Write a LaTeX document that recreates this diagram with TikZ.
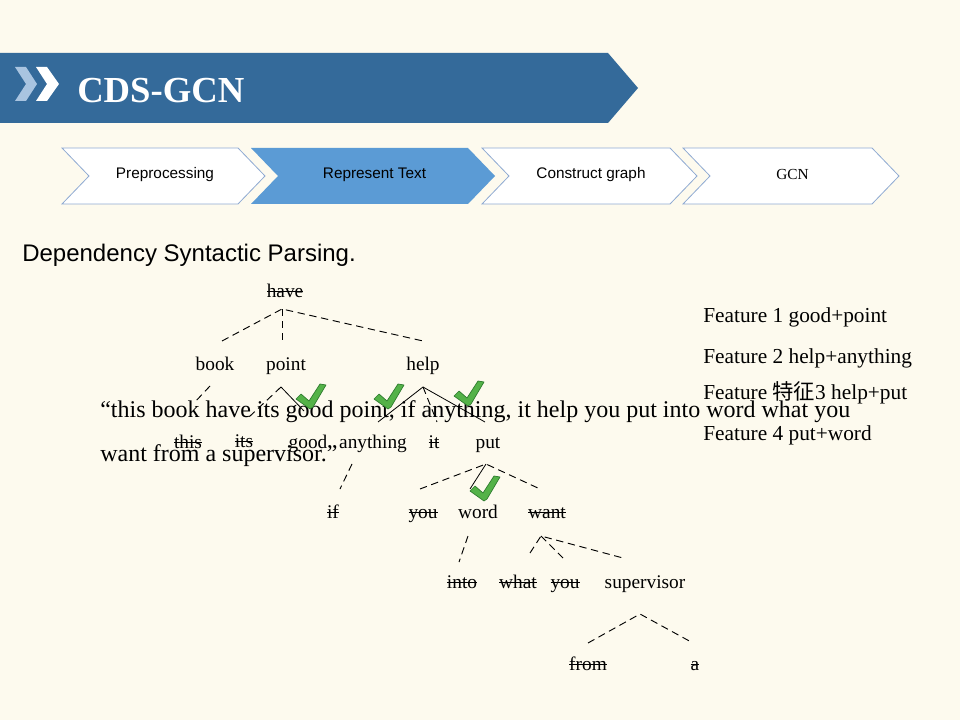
\documentclass[tikz,border=0pt]{standalone}
\usepackage{fontspec}
\setmainfont{Liberation Serif}
\newfontfamily\arialf{Liberation Sans}
\newfontfamily\cjkf{Noto Sans CJK SC}
\newcommand\mystrike[1]{\setbox0\hbox{#1}\rlap{\rule[0.25em]{\wd0}{0.05em}}\box0}
\definecolor{bgc}{RGB}{253,250,238}
\definecolor{barc}{RGB}{52,106,154}
\definecolor{chevedge}{RGB}{143,170,210}
\definecolor{chevblue}{RGB}{91,155,213}
\definecolor{iconlight}{RGB}{169,196,224}
\definecolor{ckfill}{RGB}{84,178,72}
\definecolor{ckedge}{RGB}{44,122,44}
\tikzset{
  wd/.style={font=\fontsize{14.5}{16}\selectfont, anchor=base, inner sep=0pt},
  dep/.style={line width=0.7pt, dash pattern=on 5.5pt off 3.5pt},
  sol/.style={line width=0.6pt},
  chev/.style={fill=white, draw=chevedge, line width=0.6pt},
  chevlab/.style={font=\arialf\fontsize{11.5}{13}\selectfont, inner sep=0pt},
  feat/.style={font=\fontsize{16}{18}\selectfont, anchor=base west, inner sep=0pt},
  sent/.style={font=\fontsize{18}{20}\selectfont, anchor=base west, inner sep=0pt},
  checkmk/.pic={
    \filldraw[fill=ckfill, draw=ckedge, line width=0.5pt, line join=round]
      (0,0) -- (-14,-10) -- (-9,-15) -- (-1,-8) -- (10,-25) -- (16,-24) -- (3,-2) -- cycle;
  }
}
\begin{document}
\begin{tikzpicture}[x=0.75pt,y=-0.75pt]
\fill[bgc] (0,0) rectangle (960,720);
\useasboundingbox (0,0) rectangle (960,720);
% header bar
\fill[barc] (0,53) -- (608,53) -- (638,88) -- (608,123) -- (0,123) -- cycle;
\fill[iconlight] (15,67) -- (26,67) -- (37,84) -- (26,101) -- (15,101) -- (26,84) -- cycle;
\fill[white] (36,67) -- (47,67) -- (59,84) -- (47,101) -- (36,101) -- (47,84) -- cycle;
\node[anchor=base west, inner sep=0pt, text=white, font=\bfseries\fontsize{27.5}{30}\selectfont] (title) at (77,103) {CDS-GCN};
% process chevrons
\path[chev] (62,148) -- (238,148) -- (265,176) -- (238,204) -- (62,204) -- (89,176) -- cycle;
\fill[chevblue] (251,148) -- (468,148) -- (495,176) -- (468,204) -- (251,204) -- (278,176) -- cycle;
\path[chev] (482,148) -- (670,148) -- (697,176) -- (670,204) -- (482,204) -- (509,176) -- cycle;
\path[chev] (683,148) -- (872,148) -- (899,176) -- (872,204) -- (683,204) -- (710,176) -- cycle;
\node[chevlab] (c1) at (165,175) {Preprocessing};
\node[chevlab] (c2) at (374.5,175) {Represent Text};
\node[chevlab] (c3) at (591,175) {Construct graph};
\node[inner sep=0pt, font=\fontsize{11.5}{13}\selectfont] (c4) at (792.5,175) {GCN};
\node[anchor=base west, inner sep=0pt, font=\arialf\fontsize{18}{20}\selectfont] (dsp) at (22,262) {Dependency Syntactic Parsing.};
% sentence
\node[sent] (s1) at (100,417) {“this book have its good point, if anything, it help you put into word what you};
\node[sent] (s2) at (100,461) {want from a supervisor.”};
% features
\node[feat] (f1) at (703,322) {Feature 1 good+point};
\node[feat] (f2) at (703,363) {Feature 2 help+anything};
\node[feat] (f3) at (703,399) {Feature {\cjkf 特征}3 help+put};
\node[feat] (f4) at (703,440) {Feature 4 put+word};
% tree words
\node[wd] (have) at (285,297) {\mystrike{have}};
\node[wd] (book) at (215,370) {book};
\node[wd] (point) at (286,370) {point};
\node[wd] (help) at (423,370) {help};
\node[wd] (this) at (188,448) {\mystrike{this}};
\node[wd] (its) at (244,447) {\mystrike{its}};
\node[wd] (good) at (308,448) {good};
\node[wd] (anything) at (373,448) {anything};
\node[wd] (it) at (434,448) {\mystrike{it}};
\node[wd] (put) at (488,448) {put};
\node[wd] (if) at (333,518) {\mystrike{if}};
\node[wd] (you) at (423,518) {\mystrike{you}};
\node[wd] (word) at (478,518) {word};
\node[wd] (want) at (547,518) {\mystrike{want}};
\node[wd] (into) at (462,588) {\mystrike{into}};
\node[wd] (what) at (518,588) {\mystrike{what}};
\node[wd] (youb) at (565,588) {\mystrike{you}};
\node[wd] (supervisor) at (645,588) {supervisor};
\node[wd] (from) at (588,670) {\mystrike{from}};
\node[wd] (a) at (695,670) {\mystrike{a}};
% connector points
\coordinate (haveA) at (282,309);
\coordinate (bookT) at (222,341);
\coordinate (pointT) at (282,341);
\coordinate (helpT) at (423,341);
\coordinate (bookA) at (210,386);
\coordinate (thisT) at (194,403);
\coordinate (pointA) at (281,387);
\coordinate (itsT) at (249,417);
\coordinate (goodT) at (304,411);
\coordinate (helpA) at (423,387);
\coordinate (anyT) at (378,422);
\coordinate (itT) at (437,422);
\coordinate (putT) at (485,422);
\coordinate (anyA) at (352,464);
\coordinate (ifT) at (340,489);
\coordinate (putA) at (486,464);
\coordinate (youT) at (420,489);
\coordinate (wordT) at (470,489);
\coordinate (wantT) at (540,489);
\coordinate (wordA) at (468,536);
\coordinate (intoT) at (459,562);
\coordinate (wantA) at (541,536);
\coordinate (whatT) at (530,553);
\coordinate (youbT) at (563,558);
\coordinate (supT) at (623,558);
\coordinate (supA) at (640,614);
\coordinate (fromT) at (588,643);
\coordinate (aT) at (693,643);
% edges
\draw[dep] (bookT) -- (haveA) -- (helpT);
\draw[dep] (haveA) -- (pointT);
\draw[dep] (bookA) -- (thisT);
\draw[dep] (pointA) -- (itsT);
\draw[sol] (pointA) -- (goodT);
\draw[sol] (anyT) -- (helpA) -- (putT);
\draw[dep] (helpA) -- (itT);
\draw[dep] (anyA) -- (ifT);
\draw[dep] (youT) -- (putA) -- (wantT);
\draw[sol] (putA) -- (wordT);
\draw[dep] (wordA) -- (intoT);
\draw[dep] (whatT) -- (wantA) -- (supT);
\draw[dep] (wantA) -- (youbT);
\draw[dep] (fromT) -- (supA) -- (aT);
% checkmarks
\pic at (310,409) {checkmk};
\pic at (388,409) {checkmk};
\pic at (468,406) {checkmk};
\pic at (484,501) {checkmk};
\end{tikzpicture}
\end{document}
